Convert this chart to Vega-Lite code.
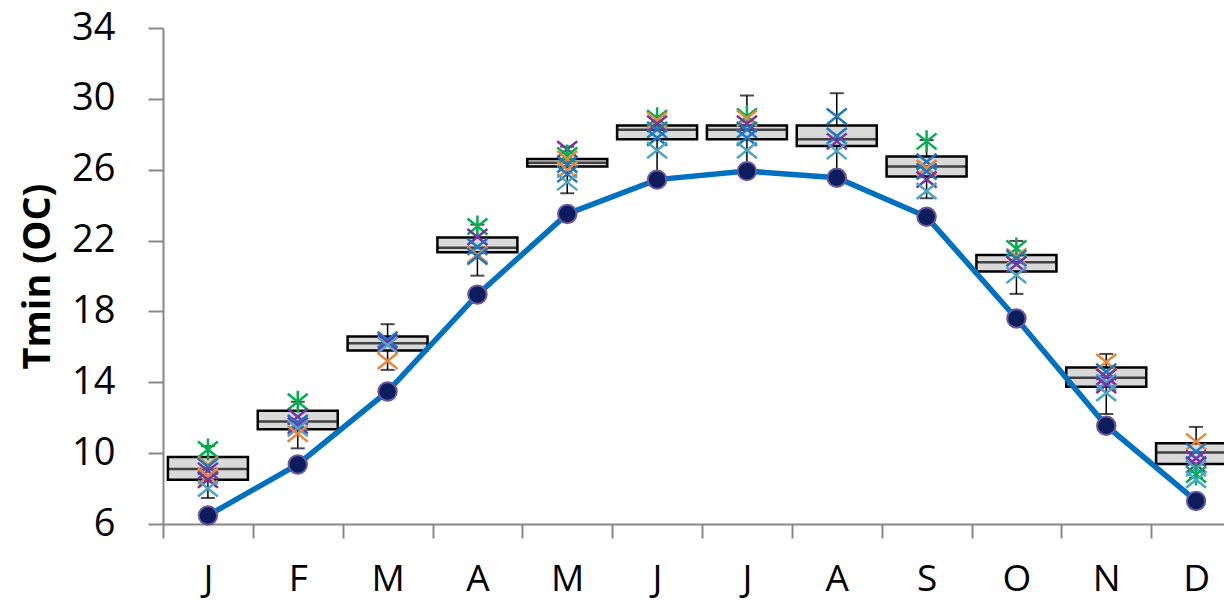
{
  "$schema": "https://vega.github.io/schema/vega-lite/v6.json",
  "width": 1061,
  "height": 496,
  "autosize": {"type": "none"},
  "padding": {"left": 163, "top": 28, "right": 0, "bottom": 80},
  "background": "white",
  "datasets": {
    "stats": [
      {"month": "Jan", "lo": 7.47, "q1": 8.5, "med": 9.1, "q3": 9.78, "hi": 10.4, "obs": 6.48},
      {"month": "Feb", "lo": 10.27, "q1": 11.35, "med": 11.78, "q3": 12.4, "hi": 12.9, "obs": 9.36},
      {"month": "Mar", "lo": 14.7, "q1": 15.8, "med": 16.2, "q3": 16.58, "hi": 17.28, "obs": 13.48},
      {"month": "Apr", "lo": 20.02, "q1": 21.34, "med": 21.6, "q3": 22.17, "hi": 22.9, "obs": 18.95},
      {"month": "May", "lo": 24.67, "q1": 26.18, "med": 26.4, "q3": 26.61, "hi": 27.3, "obs": 23.5},
      {"month": "Jun", "lo": 25.7, "q1": 27.72, "med": 28.25, "q3": 28.49, "hi": 29.04, "obs": 25.44},
      {"month": "Jul", "lo": 26.0, "q1": 27.72, "med": 28.25, "q3": 28.49, "hi": 30.19, "obs": 25.92},
      {"month": "Aug", "lo": 25.7, "q1": 27.34, "med": 27.72, "q3": 28.49, "hi": 30.32, "obs": 25.55},
      {"month": "Sep", "lo": 24.39, "q1": 25.61, "med": 26.18, "q3": 26.74, "hi": 27.68, "obs": 23.34},
      {"month": "Oct", "lo": 18.99, "q1": 20.25, "med": 20.78, "q3": 21.19, "hi": 21.98, "obs": 17.6},
      {"month": "Nov", "lo": 12.21, "q1": 13.75, "med": 14.26, "q3": 14.83, "hi": 15.6, "obs": 11.55},
      {"month": "Dec", "lo": 8.6, "q1": 9.39, "med": 10.03, "q3": 10.56, "hi": 11.48, "obs": 7.3}
    ],
    "members": [
      {"month": "Jan", "series": "G", "v": 10.2},
      {"month": "Jan", "series": "O", "v": 9.35},
      {"month": "Jan", "series": "B", "v": 9.25},
      {"month": "Jan", "series": "P", "v": 9.0},
      {"month": "Jan", "series": "O", "v": 8.7},
      {"month": "Jan", "series": "P", "v": 8.5},
      {"month": "Jan", "series": "T", "v": 8.0},
      {"month": "Feb", "series": "G", "v": 12.9},
      {"month": "Feb", "series": "P", "v": 12.05},
      {"month": "Feb", "series": "B", "v": 11.7},
      {"month": "Feb", "series": "P", "v": 11.55},
      {"month": "Feb", "series": "T", "v": 11.4},
      {"month": "Feb", "series": "O", "v": 11.1},
      {"month": "Mar", "series": "B", "v": 16.4},
      {"month": "Mar", "series": "P", "v": 16.25},
      {"month": "Mar", "series": "T", "v": 16.1},
      {"month": "Mar", "series": "O", "v": 15.2},
      {"month": "Apr", "series": "G", "v": 22.8},
      {"month": "Apr", "series": "P", "v": 22.2},
      {"month": "Apr", "series": "B", "v": 21.65},
      {"month": "Apr", "series": "O", "v": 21.2},
      {"month": "Apr", "series": "B", "v": 21.1},
      {"month": "May", "series": "P", "v": 27.15},
      {"month": "May", "series": "G", "v": 26.8},
      {"month": "May", "series": "O", "v": 26.6},
      {"month": "May", "series": "B", "v": 26.3},
      {"month": "May", "series": "O", "v": 26.0},
      {"month": "May", "series": "B", "v": 25.75},
      {"month": "May", "series": "T", "v": 25.3},
      {"month": "Jun", "series": "G", "v": 28.9},
      {"month": "Jun", "series": "O", "v": 28.8},
      {"month": "Jun", "series": "P", "v": 28.6},
      {"month": "Jun", "series": "B", "v": 28.25},
      {"month": "Jun", "series": "B", "v": 27.8},
      {"month": "Jun", "series": "T", "v": 27.1},
      {"month": "Jul", "series": "G", "v": 29.0},
      {"month": "Jul", "series": "O", "v": 28.9},
      {"month": "Jul", "series": "P", "v": 28.6},
      {"month": "Jul", "series": "B", "v": 28.25},
      {"month": "Jul", "series": "B", "v": 27.8},
      {"month": "Jul", "series": "T", "v": 27.1},
      {"month": "Aug", "series": "B", "v": 29.0},
      {"month": "Aug", "series": "B", "v": 27.9},
      {"month": "Aug", "series": "P", "v": 27.6},
      {"month": "Aug", "series": "T", "v": 27.05},
      {"month": "Sep", "series": "G", "v": 27.6},
      {"month": "Sep", "series": "B", "v": 26.45},
      {"month": "Sep", "series": "O", "v": 26.1},
      {"month": "Sep", "series": "B", "v": 25.9},
      {"month": "Sep", "series": "P", "v": 25.45},
      {"month": "Sep", "series": "T", "v": 24.8},
      {"month": "Oct", "series": "G", "v": 21.55},
      {"month": "Oct", "series": "O", "v": 21.1},
      {"month": "Oct", "series": "B", "v": 21.0},
      {"month": "Oct", "series": "P", "v": 20.65},
      {"month": "Oct", "series": "T", "v": 20.05},
      {"month": "Nov", "series": "O", "v": 15.15},
      {"month": "Nov", "series": "B", "v": 14.6},
      {"month": "Nov", "series": "P", "v": 14.3},
      {"month": "Nov", "series": "T", "v": 14.0},
      {"month": "Nov", "series": "P", "v": 13.85},
      {"month": "Nov", "series": "T", "v": 13.4},
      {"month": "Dec", "series": "O", "v": 10.65},
      {"month": "Dec", "series": "B", "v": 10.1},
      {"month": "Dec", "series": "P", "v": 9.7},
      {"month": "Dec", "series": "P", "v": 9.35},
      {"month": "Dec", "series": "T", "v": 9.15},
      {"month": "Dec", "series": "G", "v": 8.8},
      {"month": "Dec", "series": "T", "v": 8.5}
    ]
  },
  "config": {
    "view": {"stroke": null},
    "font": "Open Sans",
    "axis": {
      "grid": false,
      "domainColor": "#888888",
      "domainWidth": 2,
      "tickColor": "#888888",
      "tickWidth": 2,
      "labelColor": "black",
      "labelFont": "Open Sans",
      "labelFontSize": 38
    },
    "axisX": {
      "tickSize": 14,
      "tickBand": "extent",
      "labelPadding": 23,
      "labelFontSize": 37,
      "labelAngle": 0,
      "title": null
    },
    "axisY": {
      "tickSize": 15,
      "labelPadding": 33,
      "titleFont": "Open Sans",
      "titleFontSize": 38,
      "titleFontWeight": "bold",
      "titleColor": "black",
      "titlePadding": 14
    }
  },
  "encoding": {
    "x": {
      "field": "month",
      "type": "nominal",
      "scale": {
        "domain": ["Jan", "Feb", "Mar", "Apr", "May", "Jun", "Jul", "Aug", "Sep", "Oct", "Nov", "Dec"],
        "range": [0, 1078],
        "paddingInner": 0,
        "paddingOuter": 0
      },
      "axis": {"labelExpr": "datum.value ? substring(datum.value, 0, 1) : ''"}
    }
  },
  "layer": [
    {
      "data": {"name": "stats"},
      "mark": {"type": "rule", "color": "black", "strokeWidth": 1.5},
      "encoding": {
        "y": {
          "field": "lo", "type": "quantitative", "title": "Tmin (OC)",
          "scale": {"domain": [6, 34], "nice": false, "zero": false},
          "axis": {"values": [6, 10, 14, 18, 22, 26, 30, 34]}
        },
        "y2": {"field": "hi"}
      }
    },
    {
      "data": {"name": "stats"},
      "mark": {"type": "tick", "color": "black", "size": 14, "thickness": 2},
      "encoding": {"y": {"field": "lo", "type": "quantitative", "title": "Tmin (OC)"}}
    },
    {
      "data": {"name": "stats"},
      "mark": {"type": "tick", "color": "black", "size": 14, "thickness": 2},
      "encoding": {"y": {"field": "hi", "type": "quantitative", "title": "Tmin (OC)"}}
    },
    {
      "data": {"name": "stats"},
      "mark": {"type": "bar", "size": 80, "fill": "#d9d9d9", "stroke": "black", "strokeWidth": 2.5},
      "encoding": {
        "y": {"field": "q1", "type": "quantitative", "title": "Tmin (OC)"},
        "y2": {"field": "q3"}
      }
    },
    {
      "data": {"name": "stats"},
      "mark": {"type": "tick", "color": "black", "size": 80, "thickness": 2.5},
      "encoding": {"y": {"field": "med", "type": "quantitative", "title": "Tmin (OC)"}}
    },
    {
      "data": {"name": "members"},
      "mark": {"type": "point", "filled": false, "size": 400, "strokeWidth": 2.5, "opacity": 1},
      "encoding": {
        "y": {"field": "v", "type": "quantitative", "title": "Tmin (OC)"},
        "color": {
          "field": "series", "type": "nominal", "legend": null,
          "scale": {"domain": ["G", "O", "P", "B", "T"], "range": ["#00b050", "#e8873a", "#7434a6", "#1a78c8", "#4ca5c4"]}
        },
        "shape": {
          "field": "series", "type": "nominal", "legend": null,
          "scale": {
            "domain": ["G", "O", "P", "B", "T"],
            "range": [
              "M-1,-0.8L1,0.8M-1,0.8L1,-0.8M0,-1.1L0,1.1",
              "M-1,-0.8L1,0.8M-1,0.8L1,-0.8",
              "M-1,-0.8L1,0.8M-1,0.8L1,-0.8",
              "M-1,-0.8L1,0.8M-1,0.8L1,-0.8",
              "M-1,-0.8L1,0.8M-1,0.8L1,-0.8"
            ]
          }
        }
      }
    },
    {
      "data": {"name": "stats"},
      "mark": {"type": "line", "color": "#0070c0", "strokeWidth": 5.5},
      "encoding": {"y": {"field": "obs", "type": "quantitative", "title": "Tmin (OC)"}}
    },
    {
      "data": {"name": "stats"},
      "mark": {"type": "point", "filled": true, "fill": "#0c1d5e", "stroke": "#6b579f", "strokeWidth": 2, "size": 340, "opacity": 1},
      "encoding": {"y": {"field": "obs", "type": "quantitative", "title": "Tmin (OC)"}}
    }
  ]
}
